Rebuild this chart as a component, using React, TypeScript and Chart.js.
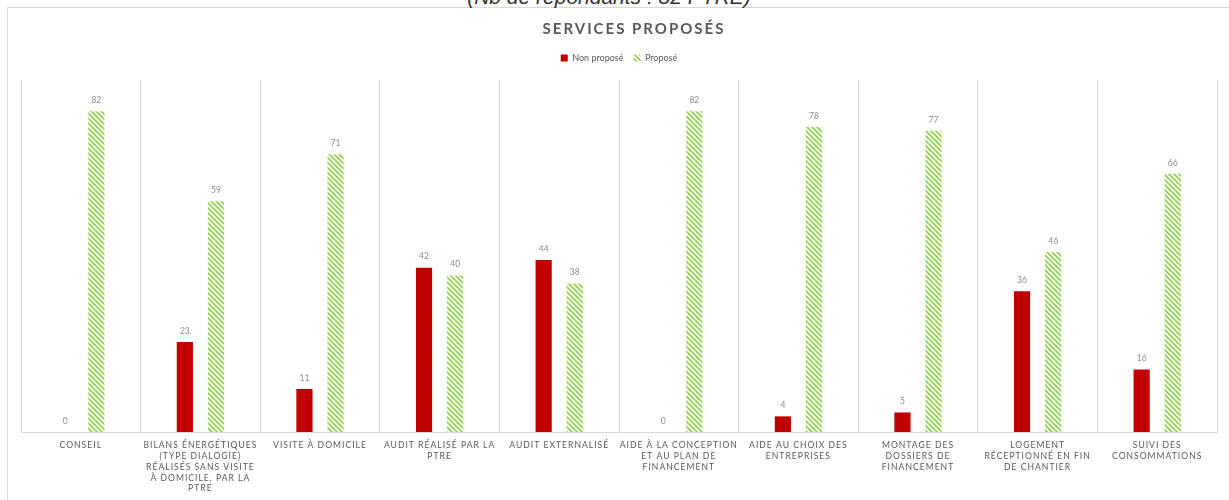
import React, { useEffect, useRef } from "react";
import { Chart, registerables } from "chart.js";

Chart.register(...registerables);

const categories: string[][] = [
  ["CONSEIL"],
  ["BILANS ÉNERGÉTIQUES", "(TYPE DIALOGIE)", "RÉALISÉS SANS VISITE", "À DOMICILE, PAR LA", "PTRE"],
  ["VISITE À DOMICILE"],
  ["AUDIT RÉALISÉ PAR LA", "PTRE"],
  ["AUDIT EXTERNALISÉ"],
  ["AIDE À LA CONCEPTION", "ET AU PLAN DE", "FINANCEMENT"],
  ["AIDE AU CHOIX DES", "ENTREPRISES"],
  ["MONTAGE DES", "DOSSIERS DE", "FINANCEMENT"],
  ["LOGEMENT", "RÉCEPTIONNÉ EN FIN", "DE CHANTIER"],
  ["SUIVI DES", "CONSOMMATIONS"],
];

const nonPropose: number[] = [0, 23, 11, 42, 44, 0, 4, 5, 36, 16];
const propose: number[] = [82, 59, 71, 40, 38, 82, 78, 77, 46, 66];

const seriesNames = ["Non proposé", "Proposé"];
const chartTitle = "SERVICES PROPOSÉS";
const subTitle = "(Nb de répondants : 82 PTRE)";
const yMax = 90;

const RED = "#C00000";
const GREEN = "#92D050";
const TEXT = "#595959";
const GRID = "#d9d9d9";
const FONT = "Lato, 'Open Sans', sans-serif";

function makeHatch(color: string): CanvasPattern | string {
  const s = 5;
  const c = document.createElement("canvas");
  c.width = s;
  c.height = s;
  const g = c.getContext("2d");
  if (!g) return color;
  g.strokeStyle = color;
  g.lineWidth = 1.8;
  g.beginPath();
  g.moveTo(-1, -1);
  g.lineTo(s + 1, s + 1);
  g.moveTo(-2, s - 2);
  g.lineTo(2, s + 2);
  g.moveTo(s - 2, -2);
  g.lineTo(s + 2, 2);
  g.stroke();
  return g.createPattern(c, "repeat") || color;
}

const spacingPlugin = {
  id: "letterSpacingPatch",
  afterLayout(chart: any) {
    const wrap = (obj: any, method: string, ls: string) => {
      if (!obj || obj["__wrapped_" + method]) return;
      const orig = obj[method];
      obj[method] = function (...args: any[]) {
        const ctx: any = chart.ctx;
        const prev = ctx.letterSpacing;
        ctx.letterSpacing = ls;
        try {
          return orig.apply(this, args);
        } finally {
          ctx.letterSpacing = prev;
        }
      };
      obj["__wrapped_" + method] = true;
    };
    wrap(chart.titleBlock, "draw", "2px");
    wrap(chart.scales.x, "drawLabels", "1px");
  },
};

const valueLabels = {
  id: "valueLabels",
  afterDatasetsDraw(chart: any) {
    const ctx = chart.ctx;
    ctx.save();
    ctx.font = `8.5px ${FONT}`;
    ctx.fillStyle = "#8c8c8c";
    ctx.textAlign = "center";
    ctx.textBaseline = "middle";
    chart.data.datasets.forEach((ds: any, i: number) => {
      const meta = chart.getDatasetMeta(i);
      meta.data.forEach((bar: any, j: number) => {
        ctx.fillText(String(ds.data[j]), bar.x, bar.y - 11);
      });
    });
    ctx.restore();
  },
};

export default function App() {
  const ref = useRef<HTMLCanvasElement | null>(null);

  useEffect(() => {
    if (!ref.current) return;
    const hatch = makeHatch(GREEN);
    const chart = new Chart(ref.current, {
      type: "bar",
      data: {
        labels: categories,
        datasets: [
          {
            label: seriesNames[0],
            data: nonPropose,
            backgroundColor: RED,
            borderWidth: 0,
            categoryPercentage: 0.52,
            barPercentage: 0.52,
          },
          {
            label: seriesNames[1],
            data: propose,
            backgroundColor: hatch as any,
            borderWidth: 0,
            categoryPercentage: 0.52,
            barPercentage: 0.52,
          },
        ],
      },
      options: {
        responsive: false,
        maintainAspectRatio: false,
        animation: false,
        devicePixelRatio: 1,
        layout: { padding: 0 },
        plugins: {
          title: {
            display: true,
            text: chartTitle,
            color: TEXT,
            font: { family: FONT, size: 15, weight: "bold" },
            padding: { top: 12, bottom: 5.5 },
          },
          legend: {
            display: true,
            position: "top",
            fullSize: false,
            labels: {
              boxWidth: 7,
              boxHeight: 7,
              padding: 10,
              color: TEXT,
              font: { family: FONT, size: 9 },
            },
          },
          tooltip: { enabled: false },
        },
        scales: {
          x: {
            type: "category",
            position: "bottom",
            grid: { display: true, color: GRID, lineWidth: 1, offset: true, drawTicks: false },
            border: { display: true, color: GRID },
            ticks: {
              color: TEXT,
              font: { family: FONT, size: 8.6, lineHeight: 1.256 },
              padding: 8,
              autoSkip: false,
              maxRotation: 0,
              minRotation: 0,
            },
            afterFit: (s: any) => {
              s.height = 68;
            },
          },
          x2: {
            type: "category",
            position: "top",
            display: true,
            grid: { display: false },
            border: { display: false },
            ticks: { display: false },
            afterFit: (s: any) => {
              s.height = 7.5;
            },
          },
          y: {
            type: "linear",
            position: "left",
            min: 0,
            max: yMax,
            display: true,
            grid: { display: false },
            border: { display: false },
            ticks: { display: false },
            afterFit: (s: any) => {
              s.width = 13;
            },
          },
          yR: {
            type: "linear",
            position: "right",
            display: true,
            grid: { display: false },
            border: { display: false },
            ticks: { display: false },
            afterFit: (s: any) => {
              s.width = 43;
            },
          },
        },
      } as any,
      plugins: [spacingPlugin, valueLabels],
    });
    return () => chart.destroy();
  }, []);

  return (
    <div style={{ position: "fixed", inset: 0, overflow: "hidden", background: "#fff" }}>
      <div
        style={{
          position: "absolute",
          left: 7,
          top: 7,
          width: 1400,
          height: 700,
          borderTop: `1px solid ${GRID}`,
          borderLeft: `1px solid ${GRID}`,
        }}
      />
      <div
        style={{
          position: "absolute",
          left: 0,
          width: 1218,
          top: -14,
          textAlign: "center",
          fontFamily: "'Liberation Sans', Arial, sans-serif",
          fontStyle: "italic",
          fontSize: 21,
          lineHeight: "21px",
          color: "#333",
          whiteSpace: "nowrap",
        }}
      >
        {subTitle}
      </div>
      <canvas
        ref={ref}
        width={1252}
        height={492}
        style={{ position: "absolute", left: 8, top: 8, width: 1252, height: 492 }}
      />
    </div>
  );
}
